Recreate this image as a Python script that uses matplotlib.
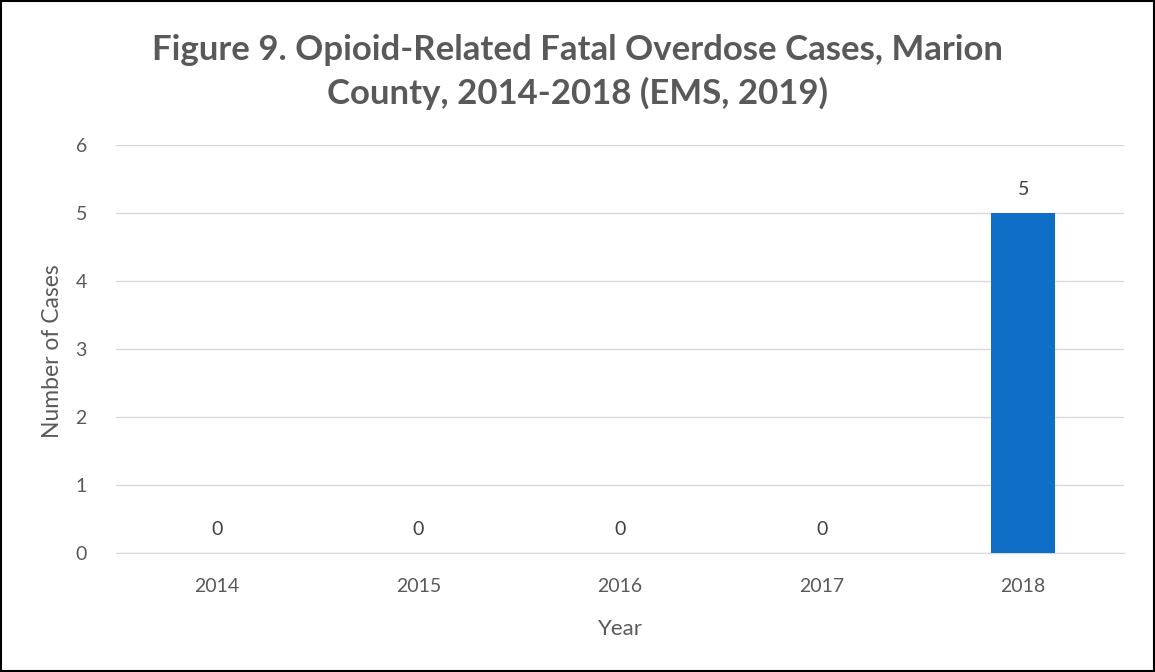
import matplotlib.pyplot as plt
from matplotlib.patches import Rectangle

plt.rcParams['font.family'] = ['Lato', 'DejaVu Sans']

years = ['2014', '2015', '2016', '2017', '2018']
cases = [0, 0, 0, 0, 5]

fig = plt.figure(figsize=(11.55, 6.72), dpi=100)
ax = fig.add_axes([116 / 1155, 1 - 553 / 672, (1124 - 116) / 1155, (553 - 145) / 672])

bars = ax.bar(range(len(years)), cases, width=0.315, color='#0F6FC6', zorder=3)
for i, v in enumerate(cases):
    ax.text(i, v + 0.22, str(v), ha='center', va='bottom', fontsize=14, color='#404040')

ax.set_xlim(-0.5, len(years) - 0.5)
ax.set_ylim(0, 6)
ax.set_yticks(range(7))
ax.set_xticks(range(len(years)))
ax.set_xticklabels(years)
ax.tick_params(axis='both', length=0, labelsize=14, labelcolor='#595959')
ax.tick_params(axis='y', pad=21)
ax.tick_params(axis='x', pad=18)
ax.grid(axis='y', color='#D9D9D9', linewidth=1, zorder=0)
for s in ['top', 'right', 'left']:
    ax.spines[s].set_visible(False)
ax.spines['bottom'].set_color('#D9D9D9')

ax.set_xlabel('Year', fontsize=16, color='#595959', labelpad=17)
ax.set_ylabel('Number of Cases', fontsize=16.5, color='#595959', va='center')
ax.yaxis.set_label_coords(-0.0625, 0.495)

fig.text(0.5, 1 - 72 / 672, 'Figure 9. Opioid-Related Fatal Overdose Cases, Marion\nCounty, 2014-2018 (EMS, 2019)',
         ha='center', va='center', fontsize=25, fontweight='bold', color='#595959', linespacing=1.4)

fig.patches.append(Rectangle((0.001, 0.001), 0.998, 0.998, transform=fig.transFigure,
                             fill=False, edgecolor='black', linewidth=1.5))

fig.savefig('out.png', dpi=100)
